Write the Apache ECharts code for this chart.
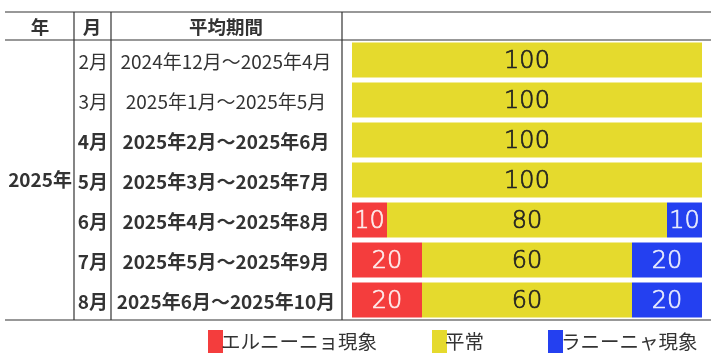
<!DOCTYPE html>
<html><head><meta charset="utf-8">
<script src="https://cdn.jsdelivr.net/npm/echarts@6/dist/echarts.min.js"></script>
<style>html,body{margin:0;padding:0;background:#fff}#c{width:716px;height:359px}</style>
</head><body><div id="c"></div>
<script>
const months = ['2月','3月','4月','5月','6月','7月','8月'];
const periods = ['2024年12月～2025年4月','2025年1月～2025年5月','2025年2月～2025年6月','2025年3月～2025年7月','2025年4月～2025年8月','2025年5月～2025年9月','2025年6月～2025年10月'];
const yearLabels = ['','','','2025年','','',''];
const boldRows = [false,false,true,true,true,true,true];
const elNino = [0,0,0,0,10,20,20];
const normal = [100,100,100,100,80,60,60];
const laNina = [0,0,0,0,10,20,20];
const seriesNames = ['エルニーニョ現象','平常','ラニーニャ現象'];
const headers = ['年','月','平均期間'];

const CJK = '"Noto Sans CJK JP","Noto Sans",sans-serif';
const chart = echarts.init(document.getElementById('c'));
function rowFmt(v, i){ return boldRows[i] ? '{b|'+v+'}' : '{n|'+v+'}'; }
const rich = {
  b:{fontFamily:CJK,fontSize:19,fontWeight:'bold',color:'#333',padding:[4,0,0,0]},
  n:{fontFamily:CJK,fontSize:19,fontWeight:'normal',color:'#333',padding:[4,0,0,0]}
};
const lbl = (c) => ({show:true,position:'inside',offset:[0,2],fontFamily:'"DejaVu Sans", sans-serif',fontWeight:200,fontSize:24,color:c,
  textBorderColor:c,textBorderWidth:0.7,
  formatter:p=>p.value?String(p.value):''});
const line = (x1,y1,x2,y2)=>({type:'line',shape:{x1,y1,x2,y2},style:{stroke:'#333',lineWidth:1.2},silent:true});
const htext = (x,t)=>({type:'text',x:x,y:27,style:{text:t,fill:'#333',font:'bold 18.5px '+CJK,textAlign:'center',textVerticalAlign:'middle'}});
const legendText = {fontFamily:CJK,fontSize:19.5,color:'#333',padding:[0,0,0,-7]};

chart.setOption({
  animation:false,
  grid:{left:352,right:14,top:40,bottom:39},
  xAxis:{type:'value',min:0,max:100,show:false},
  yAxis:[
    {type:'category',data:months,inverse:true,axisLine:{show:false},axisTick:{show:false},
     axisLabel:{margin:244,align:'right',formatter:rowFmt,rich:rich}},
    {type:'category',data:periods,inverse:true,position:'left',axisLine:{show:false},axisTick:{show:false},
     axisLabel:{margin:126,align:'center',formatter:rowFmt,rich:rich}},
    {type:'category',data:yearLabels,inverse:true,position:'left',axisLine:{show:false},axisTick:{show:false},
     axisLabel:{margin:280,align:'right',interval:0,fontFamily:CJK,fontSize:19,fontWeight:'bold',color:'#333',padding:[4,0,0,0]}}
  ],
  legend:[
    {data:[seriesNames[0]],left:203,top:325,itemWidth:15,itemHeight:23,icon:'rect',itemGap:0,textStyle:legendText},
    {data:[seriesNames[1]],left:427,top:325,itemWidth:15,itemHeight:23,icon:'rect',itemGap:0,textStyle:legendText},
    {data:[seriesNames[2]],left:543,top:325,itemWidth:15,itemHeight:23,icon:'rect',itemGap:0,textStyle:legendText}
  ],
  series:[
    {name:seriesNames[0],type:'bar',stack:'a',data:elNino,barWidth:35,itemStyle:{color:'#f43d3d'},label:lbl('rgba(255,255,255,0.82)')},
    {name:seriesNames[1],type:'bar',stack:'a',data:normal,barWidth:35,itemStyle:{color:'#e5da2d'},label:lbl('#222')},
    {name:seriesNames[2],type:'bar',stack:'a',data:laNina,barWidth:35,itemStyle:{color:'#2440f0'},label:lbl('rgba(255,255,255,0.82)')}
  ],
  graphic:[
    line(5,12,711,12), line(5,40,711,40), line(5,320,711,320),
    line(74,12,74,320), line(111,12,111,320), line(342,12,342,320),
    htext(40,headers[0]), htext(92,headers[1]), htext(226,headers[2])
  ]
});
</script></body></html>
